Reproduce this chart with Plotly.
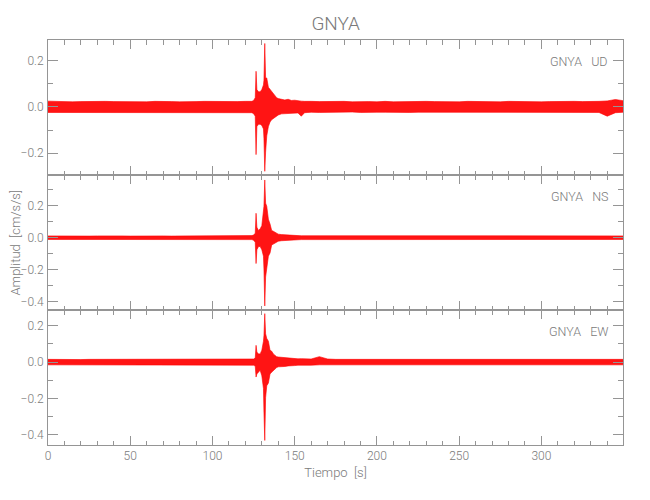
import plotly.graph_objects as go
from plotly.subplots import make_subplots

# ---- data (envelopes) ----
station = "GNYA"
components = ["UD", "NS", "EW"]

t = [0, 5, 10, 15, 20, 25, 30, 35, 40, 45, 50, 55, 60, 65, 70, 75, 80, 85, 90, 95,
     100, 105, 110, 115,
     120, 122, 124, 125, 126, 126.5, 127, 128, 129, 130, 131, 131.3, 131.8, 132.3,
     133, 134, 135, 136, 137, 138, 139, 140, 142, 144, 146, 148, 150, 152, 154, 156,
     158, 160,
     165, 170, 175, 180, 185, 190, 195, 200, 205, 210, 215, 220, 225, 230, 235, 240,
     245, 250, 255, 260, 265, 270, 275, 280, 285, 290, 295, 300, 305, 310, 315, 320,
     325, 330, 335, 340, 345, 349.6]

ud_upper = [0.025, 0.023, 0.024, 0.022, 0.023, 0.024, 0.022, 0.024, 0.023, 0.022,
            0.024, 0.023, 0.022, 0.024, 0.025, 0.023, 0.022, 0.024, 0.023, 0.024,
            0.023, 0.024, 0.022, 0.023,
            0.024, 0.025, 0.024, 0.028, 0.040, 0.154, 0.075, 0.065, 0.065, 0.075,
            0.095, 0.115, 0.274, 0.125, 0.125, 0.085, 0.075, 0.065, 0.055, 0.045,
            0.040, 0.036, 0.032, 0.030, 0.033, 0.028, 0.029, 0.026, 0.025, 0.024,
            0.025, 0.024,
            0.023, 0.024, 0.022, 0.024, 0.022, 0.024, 0.023, 0.022, 0.024, 0.022,
            0.023, 0.024, 0.022, 0.024, 0.023, 0.022, 0.024, 0.022, 0.024, 0.023,
            0.022, 0.024, 0.022, 0.024, 0.023, 0.022, 0.024, 0.022, 0.023, 0.024,
            0.022, 0.024, 0.023, 0.022, 0.024, 0.026, 0.032, 0.027]
ud_lower = [-0.024, -0.024, -0.022, -0.024, -0.023, -0.022, -0.025, -0.023, -0.022, -0.024,
            -0.023, -0.024, -0.023, -0.022, -0.024, -0.023, -0.025, -0.023, -0.022, -0.024,
            -0.023, -0.023, -0.024, -0.024,
            -0.024, -0.024, -0.025, -0.029, -0.040, -0.206, -0.085, -0.075, -0.075, -0.080,
            -0.095, -0.135, -0.278, -0.195, -0.125, -0.085, -0.065, -0.055, -0.050, -0.045,
            -0.040, -0.035, -0.030, -0.029, -0.030, -0.028, -0.027, -0.026, -0.040, -0.025,
            -0.024, -0.023,
            -0.024, -0.023, -0.024, -0.023, -0.022, -0.024, -0.025, -0.023, -0.023, -0.024,
            -0.022, -0.024, -0.023, -0.023, -0.024, -0.024, -0.022, -0.023, -0.025, -0.023,
            -0.024, -0.023, -0.024, -0.022, -0.024, -0.023, -0.023, -0.024, -0.024, -0.023,
            -0.023, -0.025, -0.024, -0.023, -0.024, -0.040, -0.025, -0.023]

ns_upper = [0.011, 0.010, 0.011, 0.010, 0.011, 0.010, 0.011, 0.012, 0.010, 0.011,
            0.010, 0.011, 0.010, 0.011, 0.011, 0.010, 0.010, 0.011, 0.011, 0.010,
            0.011, 0.010, 0.011, 0.011,
            0.012, 0.011, 0.013, 0.016, 0.028, 0.152, 0.065, 0.045, 0.055, 0.075,
            0.145, 0.195, 0.359, 0.215, 0.195, 0.115, 0.085, 0.045, 0.040, 0.035,
            0.026, 0.022, 0.019, 0.017, 0.015, 0.014, 0.013, 0.013, 0.012, 0.012,
            0.012, 0.012,
            0.011, 0.011, 0.010, 0.011, 0.011, 0.010, 0.011, 0.010, 0.011, 0.011,
            0.010, 0.011, 0.011, 0.010, 0.011, 0.011, 0.010, 0.011, 0.011, 0.010,
            0.011, 0.011, 0.010, 0.011, 0.010, 0.011, 0.011, 0.010, 0.011, 0.011,
            0.010, 0.011, 0.011, 0.010, 0.011, 0.011, 0.010, 0.011]
ns_lower = [-0.011, -0.011, -0.010, -0.011, -0.012, -0.010, -0.011, -0.010, -0.011, -0.011,
            -0.010, -0.011, -0.011, -0.010, -0.011, -0.011, -0.012, -0.010, -0.011, -0.011,
            -0.010, -0.011, -0.011, -0.011,
            -0.012, -0.011, -0.012, -0.016, -0.028, -0.161, -0.075, -0.055, -0.055, -0.075,
            -0.115, -0.195, -0.425, -0.245, -0.195, -0.115, -0.095, -0.045, -0.040, -0.035,
            -0.026, -0.022, -0.019, -0.017, -0.015, -0.014, -0.013, -0.013, -0.012, -0.012,
            -0.012, -0.012,
            -0.011, -0.010, -0.011, -0.011, -0.010, -0.011, -0.011, -0.012, -0.010, -0.011,
            -0.011, -0.010, -0.011, -0.011, -0.010, -0.011, -0.011, -0.011, -0.010, -0.011,
            -0.011, -0.010, -0.011, -0.011, -0.012, -0.010, -0.011, -0.011, -0.010, -0.011,
            -0.011, -0.011, -0.010, -0.011, -0.011, -0.010, -0.011, -0.011]

ew_upper = [0.015, 0.014, 0.015, 0.016, 0.014, 0.015, 0.015, 0.014, 0.015, 0.014,
            0.015, 0.015, 0.014, 0.015, 0.015, 0.016, 0.014, 0.015, 0.015, 0.014,
            0.015, 0.015, 0.014, 0.015,
            0.016, 0.015, 0.016, 0.017, 0.022, 0.092, 0.055, 0.045, 0.045, 0.065,
            0.115, 0.145, 0.266, 0.155, 0.130, 0.115, 0.065, 0.060, 0.045, 0.035,
            0.030, 0.028, 0.026, 0.024, 0.021, 0.019, 0.020, 0.018, 0.019, 0.017,
            0.018, 0.017,
            0.030, 0.017, 0.015, 0.015, 0.014, 0.015, 0.016, 0.014, 0.015, 0.015,
            0.014, 0.015, 0.015, 0.014, 0.015, 0.016, 0.014, 0.015, 0.015, 0.014,
            0.015, 0.015, 0.014, 0.015, 0.016, 0.014, 0.015, 0.015, 0.014, 0.015,
            0.015, 0.014, 0.015, 0.015, 0.015, 0.014, 0.015, 0.015]
ew_lower = [-0.015, -0.015, -0.014, -0.015, -0.016, -0.014, -0.015, -0.015, -0.014, -0.015,
            -0.015, -0.014, -0.015, -0.016, -0.015, -0.014, -0.015, -0.015, -0.014, -0.015,
            -0.015, -0.014, -0.015, -0.015,
            -0.015, -0.016, -0.015, -0.017, -0.022, -0.082, -0.065, -0.055, -0.045, -0.075,
            -0.145, -0.275, -0.430, -0.195, -0.130, -0.115, -0.065, -0.055, -0.045, -0.035,
            -0.030, -0.026, -0.026, -0.024, -0.021, -0.018, -0.019, -0.017, -0.018, -0.017,
            -0.016, -0.017,
            -0.015, -0.015, -0.014, -0.015, -0.016, -0.014, -0.015, -0.015, -0.014, -0.015,
            -0.015, -0.014, -0.015, -0.016, -0.014, -0.015, -0.015, -0.014, -0.015, -0.015,
            -0.014, -0.015, -0.016, -0.014, -0.015, -0.015, -0.014, -0.015, -0.015, -0.014,
            -0.015, -0.016, -0.014, -0.015, -0.015, -0.015, -0.014, -0.015]

y_ranges = [[-0.294, 0.289], [-0.45, 0.39], [-0.455, 0.286]]
x_range = [0, 349.6]
x_title = "Tiempo  [s]"
y_title = "Amplitud  [cm/s/s]"

# ---- figure ----
FONT = "Roboto, Liberation Sans Narrow, DejaVu Sans Condensed, sans-serif"
TXT = "#7a7a7a"
AX = "#959595"
RED = "rgb(255,0,0)"

# page body has an 8 px margin: figure drawn 8 px right/down
W, H = 642, 492

fig = make_subplots(rows=3, cols=1, shared_xaxes=True, vertical_spacing=0)

series = [(ud_upper, ud_lower), (ns_upper, ns_lower), (ew_upper, ew_lower)]
for i, (up, lo) in enumerate(series):
    r = i + 1
    fig.add_trace(go.Scatter(x=t, y=up, mode="lines",
                             line=dict(color=RED, width=0.6),
                             showlegend=False, hoverinfo="skip"), row=r, col=1)
    fig.add_trace(go.Scatter(x=t, y=lo, mode="lines", fill="tonexty",
                             fillcolor="rgba(255,0,0,0.92)",
                             line=dict(color=RED, width=0.6),
                             showlegend=False, hoverinfo="skip"), row=r, col=1)

for i in range(3):
    r = i + 1
    fig.update_xaxes(range=x_range, dtick=50, tick0=0,
                     showline=True, linecolor=AX, linewidth=1, mirror="allticks",
                     ticks="inside", ticklen=9, tickcolor=AX, tickwidth=1,
                     minor=dict(dtick=10, ticks="inside", ticklen=4.5, tickcolor=AX),
                     showgrid=False, zeroline=False,
                     showticklabels=(r == 3),
                     tickfont=dict(family=FONT, size=12, color=TXT, weight=300),
                     row=r, col=1)
    fig.update_yaxes(range=y_ranges[i], dtick=0.2, tick0=0, tickformat=".1f",
                     showline=True, linecolor=AX, linewidth=1, mirror="allticks",
                     ticks="inside", ticklen=10, tickcolor=AX, tickwidth=1,
                     minor=dict(dtick=0.1, ticks="inside", ticklen=5, tickcolor=AX),
                     showgrid=False, zeroline=False,
                     tickfont=dict(family=FONT, size=12, color=TXT, weight=300),
                     ticklabelstandoff=1,
                     row=r, col=1)

fig.update_xaxes(title=dict(text=x_title,
                            font=dict(family=FONT, size=13, color=TXT, weight=300),
                            standoff=5), row=3, col=1)

annotations = []
tops = [1.0, 2 / 3, 1 / 3]
for i, comp in enumerate(components):
    annotations.append(dict(
        text=f"{station}\u00a0\u00a0\u00a0{comp}", xref="paper", yref="paper",
        x=0.977, y=tops[i], xanchor="right", yanchor="middle", yshift=-21,
        showarrow=False, font=dict(family=FONT, size=12.5, color=TXT, weight=300)))
annotations.append(dict(
    text=y_title, xref="paper", yref="paper", x=0, y=0.5, xshift=-33,
    xanchor="center", yanchor="middle", textangle=-90, showarrow=False,
    font=dict(family=FONT, size=13, color=TXT, weight=300)))

fig.update_layout(
    width=W, height=H,
    margin=dict(l=40, r=27, t=32, b=55),
    paper_bgcolor="white", plot_bgcolor="white",
    title=dict(text=station, x=(335.7 - 8) / W, xanchor="center", y=1 - 15 / H,
               yanchor="middle", yref="container",
               font=dict(family=FONT, size=19, color=TXT, weight=300)),
    annotations=annotations,
    showlegend=False,
)

fig.write_html("out.html")
